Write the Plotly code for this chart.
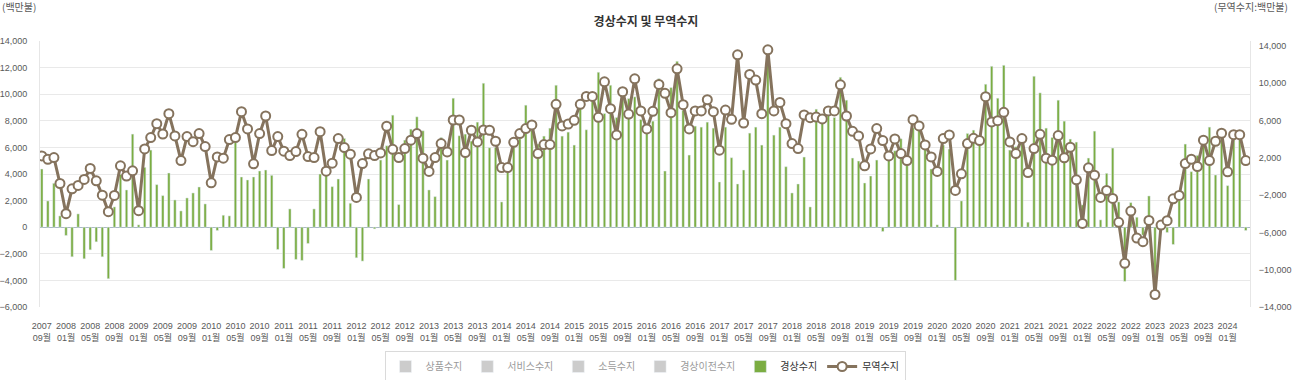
import plotly.graph_objects as go

# ---- categories (monthly, 2007-09 .. 2024-04) ----
all_months = [f"{y}-{m:02d}" for y in range(2007, 2025) for m in range(1, 13)]
months = all_months[all_months.index("2007-09"):all_months.index("2024-04") + 1]

# ---- 경상수지 (current account, 백만불) ----
current_account = [
    4375, 1975, 3300, 850, -625, -2225, 1000, -2375, -1700, -1100,
    -2225, -3875, 1525, 3975, 2800, 7000, 175, 4500, 5800, 3200,
    2375, 4075, 2050, 1225, 2200, 2575, 3025, 1750, -1750, -250,
    900, 850, 6375, 3775, 3550, 3775, 4225, 4300, 3900, -1675,
    -3100, 1375, -2425, -2500, -1225, 1375, 4000, 3900, 3050, 3625,
    6675, 1800, -2300, -2550, 3625, -125, 5050, 6125, 8425, 1700,
    6550, 7375, 8300, 7250, 2800, 2300, 6750, 5050, 9700, 6875,
    7000, 6475, 7900, 10825, 5975, 6000, 1900, 4500, 6375, 6650,
    9175, 7300, 6250, 6850, 7450, 10675, 6850, 7150, 6175, 9475,
    7325, 9800, 11650, 8550, 10675, 8250, 9800, 9675, 9800, 8100,
    7500, 7975, 11175, 4225, 10500, 12475, 8800, 5425, 7600, 7525,
    7900, 7450, 3400, 7525, 5225, 3250, 4300, 7075, 7525, 6175,
    12500, 6925, 7525, 4550, 2575, 3250, 5275, 1525, 8875, 8250,
    8550, 8250, 11275, 9550, 5200, 4975, 3325, 3850, 5050, -325,
    5500, 5750, 6650, 5175, 7475, 7550, 5925, 4375, 175, 6175,
    5875, -4000, 1975, 7050, 7300, 6300, 10750, 12100, 9700, 12175,
    5800, 6050, 6550, 375, 11350, 10100, 7450, 6750, 9550, 7975,
    6625, 6400, 1675, 5200, 7225, 550, 4050, 5950, 1900, -4075,
    1850, 750, -600, 2350, -4200, -200, -400, -1300, 2000, 6250,
    4175, 5400, 6225, 7525, 3925, 7425, 3125, 7050, 6800, -250,
]

# ---- 무역수지 (trade balance, 백만불) ----
trade_balance = [
    2210, 1850, 2030, -750, -3990, -1320, -960, -320, 860, -460,
    -2000, -3780, -2030, 1140, 40, 610, -3670, 2960, 4170, 5670,
    4560, 6740, 4350, 1710, 4280, 3740, 4600, 3210, -680, 2100,
    1960, 3960, 4170, 6950, 5100, 1360, 4600, 6490, 2780, 4280,
    2710, 2250, 2670, 4530, 2140, 2030, 4810, 570, 1430, 4070,
    3100, 2390, -2250, 1390, 2430, 2250, 2530, 5390, 2920, 2030,
    3000, 3890, 4600, 1960, 540, 2030, 3530, 2640, 6060, 6060,
    2570, 4960, 3710, 4990, 4960, 3780, 960, 960, 3670, 4600,
    5140, 5530, 2460, 3420, 3420, 7740, 5420, 5630, 6030, 7740,
    8590, 8590, 6350, 10160, 7280, 4460, 9090, 6700, 10480, 7030,
    5100, 6990, 9880, 8920, 6850, 11550, 7700, 5100, 7030, 7030,
    8240, 6950, 2820, 7130, 6130, 13050, 5740, 10950, 10340, 6740,
    13590, 7030, 7950, 5670, 3530, 3000, 6600, 6310, 6380, 6170,
    7030, 7030, 9840, 6490, 4850, 4350, 1140, 2960, 5140, 3850,
    2210, 4030, 2460, 1710, 6100, 5420, 3390, 2100, 540, 4070,
    4460, -1500, 290, 3530, 4100, 3850, 8560, 5850, 5990, 6880,
    3710, 2460, 4070, 430, 3000, 4530, 1960, 1750, 4390, 2000,
    3140, -360, -5030, 930, 140, -2250, -1500, -2350, -4920, -9310,
    -3710, -6600, -6990, -4710, -12660, -5210, -4740, -2390, -2030, 1390,
    1850, 1070, 3890, 1710, 3780, 4640, 500, 4490, 4490, 1710,
]

# series shown only (greyed) in the legend; values not displayed in the chart
hidden_series = ["상품수지", "서비스수지", "소득수지", "경상이전수지"]

tick_months = months[::4]
tick_text = [f"{m[:4]}<br>{m[5:]}월" for m in tick_months]
left_ticks = list(range(-6000, 14001, 2000))
right_ticks = list(range(-14000, 14001, 4000))

GREEN = "#7bad42"
BROWN = "#85735d"
TICK_FONT = dict(family="Liberation Sans Narrow, Arial Narrow, Liberation Sans, Noto Sans CJK KR",
                 size=9, color="#595959")

fig = go.Figure()
for name in hidden_series:
    fig.add_trace(go.Bar(name=name, x=months, y=[None] * len(months),
                         marker_color="#9a9a9a", visible="legendonly"))
fig.add_trace(go.Bar(name="경상수지", x=months, y=current_account,
                     marker_color=GREEN, width=0.4))
fig.add_trace(go.Scatter(name="무역수지", x=months, y=trade_balance, yaxis="y2",
                         mode="lines+markers",
                         line=dict(color=BROWN, width=3),
                         marker=dict(size=9, color="white",
                                     line=dict(color=BROWN, width=2))))

fig.update_layout(
    width=1292, height=380,
    margin=dict(l=40, r=42, t=41, b=73, autoexpand=False),
    paper_bgcolor="white", plot_bgcolor="white",
    font=dict(family="Noto Sans CJK KR, Liberation Sans", color="#333"),
    title=dict(text="경상수지 및 무역수지", x=0.5, xanchor="center",
               y=1 - 22 / 380, yanchor="middle",
               font=dict(size=12, color="#333", weight="bold")),
    showlegend=True,
    legend=dict(orientation="h", x=0.5, xanchor="center",
                yref="container", y=(380 - 366.5) / 380, yanchor="middle",
                bordercolor="#dadada", borderwidth=1,
                font=dict(size=10, color="#333"), traceorder="normal"),
    xaxis=dict(type="category", range=[-0.3, 199.7], automargin=False,
               tickmode="array", tickvals=tick_months, ticktext=tick_text,
               tickangle=0, tickfont=TICK_FONT, showgrid=False, ticks="",
               showline=False, ticklabelstandoff=12),
    yaxis=dict(range=[-6000, 14000], tickvals=left_ticks, tickformat=",",
               automargin=False,
               tickfont=TICK_FONT, showgrid=True, gridcolor="#e9e9e9",
               zeroline=True, zerolinecolor="#a9b7c6", zerolinewidth=1,
               showline=True, linecolor="#e6e6e6", mirror=False,
               ticklabelstandoff=10),
    yaxis2=dict(range=[-14000, 14535], tickvals=right_ticks, tickformat=",",
                automargin=False,
                tickfont=TICK_FONT, overlaying="y", side="right",
                showgrid=False, zeroline=False,
                showline=True, linecolor="#e6e6e6",
                ticklabelstandoff=6),
    bargap=0.6,
    annotations=[
        dict(text="(백만불)", xref="paper", yref="paper",
             x=-40 / 1210, y=(307 - 7) / 266, xanchor="left", yanchor="middle",
             showarrow=False, font=dict(size=10, color="#595959")),
        dict(text="(무역수지:백만불)", xref="paper", yref="paper",
             x=(1290 - 40) / 1210, y=(307 - 7) / 266, xanchor="right", yanchor="middle",
             showarrow=False, font=dict(size=10, color="#595959")),
    ],
)

fig.write_html("out.html", config={"displayModeBar": False},
               post_script="document.body.style.margin='0';")
